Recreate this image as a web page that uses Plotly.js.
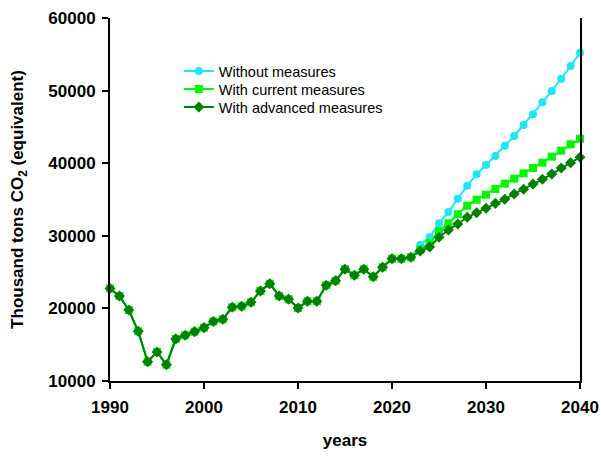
<!DOCTYPE html>
<html>
<head>
<meta charset="utf-8">
<script src="https://cdn.plot.ly/plotly-3.0.1.min.js"></script>
<style>html,body{margin:0;padding:0;background:#fff;}#chart{width:601px;height:457px;}</style>
</head>
<body>
<div id="chart"></div>
<script>
const years = [1990,1991,1992,1993,1994,1995,1996,1997,1998,1999,2000,2001,2002,2003,2004,2005,2006,2007,2008,2009,2010,2011,2012,2013,2014,2015,2016,2017,2018,2019,2020,2021,2022,2023,2024,2025,2026,2027,2028,2029,2030,2031,2032,2033,2034,2035,2036,2037,2038,2039,2040];
const historical = [22750,21700,19780,16850,12660,14000,12250,15800,16300,16800,17350,18200,18500,20150,20300,20840,22400,23400,21700,21250,20050,20980,20980,23180,23800,25400,24560,25400,24370,25660,26850,26850,27040];
const withoutMeasures = [28730,29800,31720,33280,35110,36900,38470,39750,40990,42410,43750,45260,46740,48390,49950,51640,53390,55220];
const withCurrentMeasures = [28100,29000,30660,31720,32960,34150,34970,35660,36450,37180,37870,38600,39340,40070,40900,41720,42600,43370];
const withAdvancedMeasures = [27900,28450,29790,30800,31630,32550,33180,33790,34470,35030,35760,36400,37130,37780,38510,39340,40070,40810];
const seriesNames = ["Without measures","With current measures","With advanced measures"];
const xTicks = [1990,2000,2010,2020,2030,2040];
const yTicks = [10000,20000,30000,40000,50000,60000];

const font = "Arial, 'Liberation Sans', sans-serif";
function mk(name, proj, color, symbol, size, legend) {
  return {
    x: years, y: historical.concat(proj), name: name, type: 'scatter', mode: 'lines+markers',
    line: {color: color, width: 2}, marker: {color: color, symbol: symbol, size: size},
    cliponaxis: false, legend: legend
  };
}
const data = [
  mk(seriesNames[0], withoutMeasures, '#1ee6f5', 'circle', 8, 'legend'),
  mk(seriesNames[1], withCurrentMeasures, '#00f500', 'square', 8, 'legend2'),
  mk(seriesNames[2], withAdvancedMeasures, '#008000', 'diamond', 8.5, 'legend3')
];
function leg(rowY) {
  return {x: 0.1465, y: (381 - rowY) / 363, xanchor: 'left', yanchor: 'middle', bgcolor: 'rgba(0,0,0,0)',
          font: {family: font, size: 14.5, color: '#000'}};
}
const layout = {
  width: 601, height: 457,
  margin: {l: 110, r: 21, t: 18, b: 76},
  paper_bgcolor: '#fff', plot_bgcolor: '#fff',
  showlegend: true,
  legend: leg(71), legend2: leg(89), legend3: leg(107),
  xaxis: {
    range: [1990, 2040], tickvals: xTicks, ticktext: xTicks.map(String),
    showgrid: false, zeroline: false, showline: true, linecolor: '#000', linewidth: 2,
    ticks: 'outside', ticklen: 6, tickwidth: 2, tickcolor: '#000', ticklabelstandoff: 4,
    tickfont: {family: font, size: 17, color: '#000', weight: 'bold'},
    title: {text: '<b>years</b>', font: {family: font, size: 17, color: '#000'}, standoff: 18}
  },
  yaxis: {
    range: [10000, 60000], tickvals: yTicks, ticktext: yTicks.map(String),
    showgrid: false, zeroline: false, showline: true, mirror: true, linecolor: '#000', linewidth: 2,
    ticks: 'outside', ticklen: 6, tickwidth: 2, tickcolor: '#000', ticklabelstandoff: 3,
    tickfont: {family: font, size: 17, color: '#000', weight: 'bold'},
    title: {text: '<b>Thousand tons CO<sub>2</sub> (equivalent)</b>', font: {family: font, size: 17, color: '#000'}, standoff: 20}
  }
};
Plotly.newPlot('chart', data, layout, {displayModeBar: false, staticPlot: true});
</script>
</body>
</html>
